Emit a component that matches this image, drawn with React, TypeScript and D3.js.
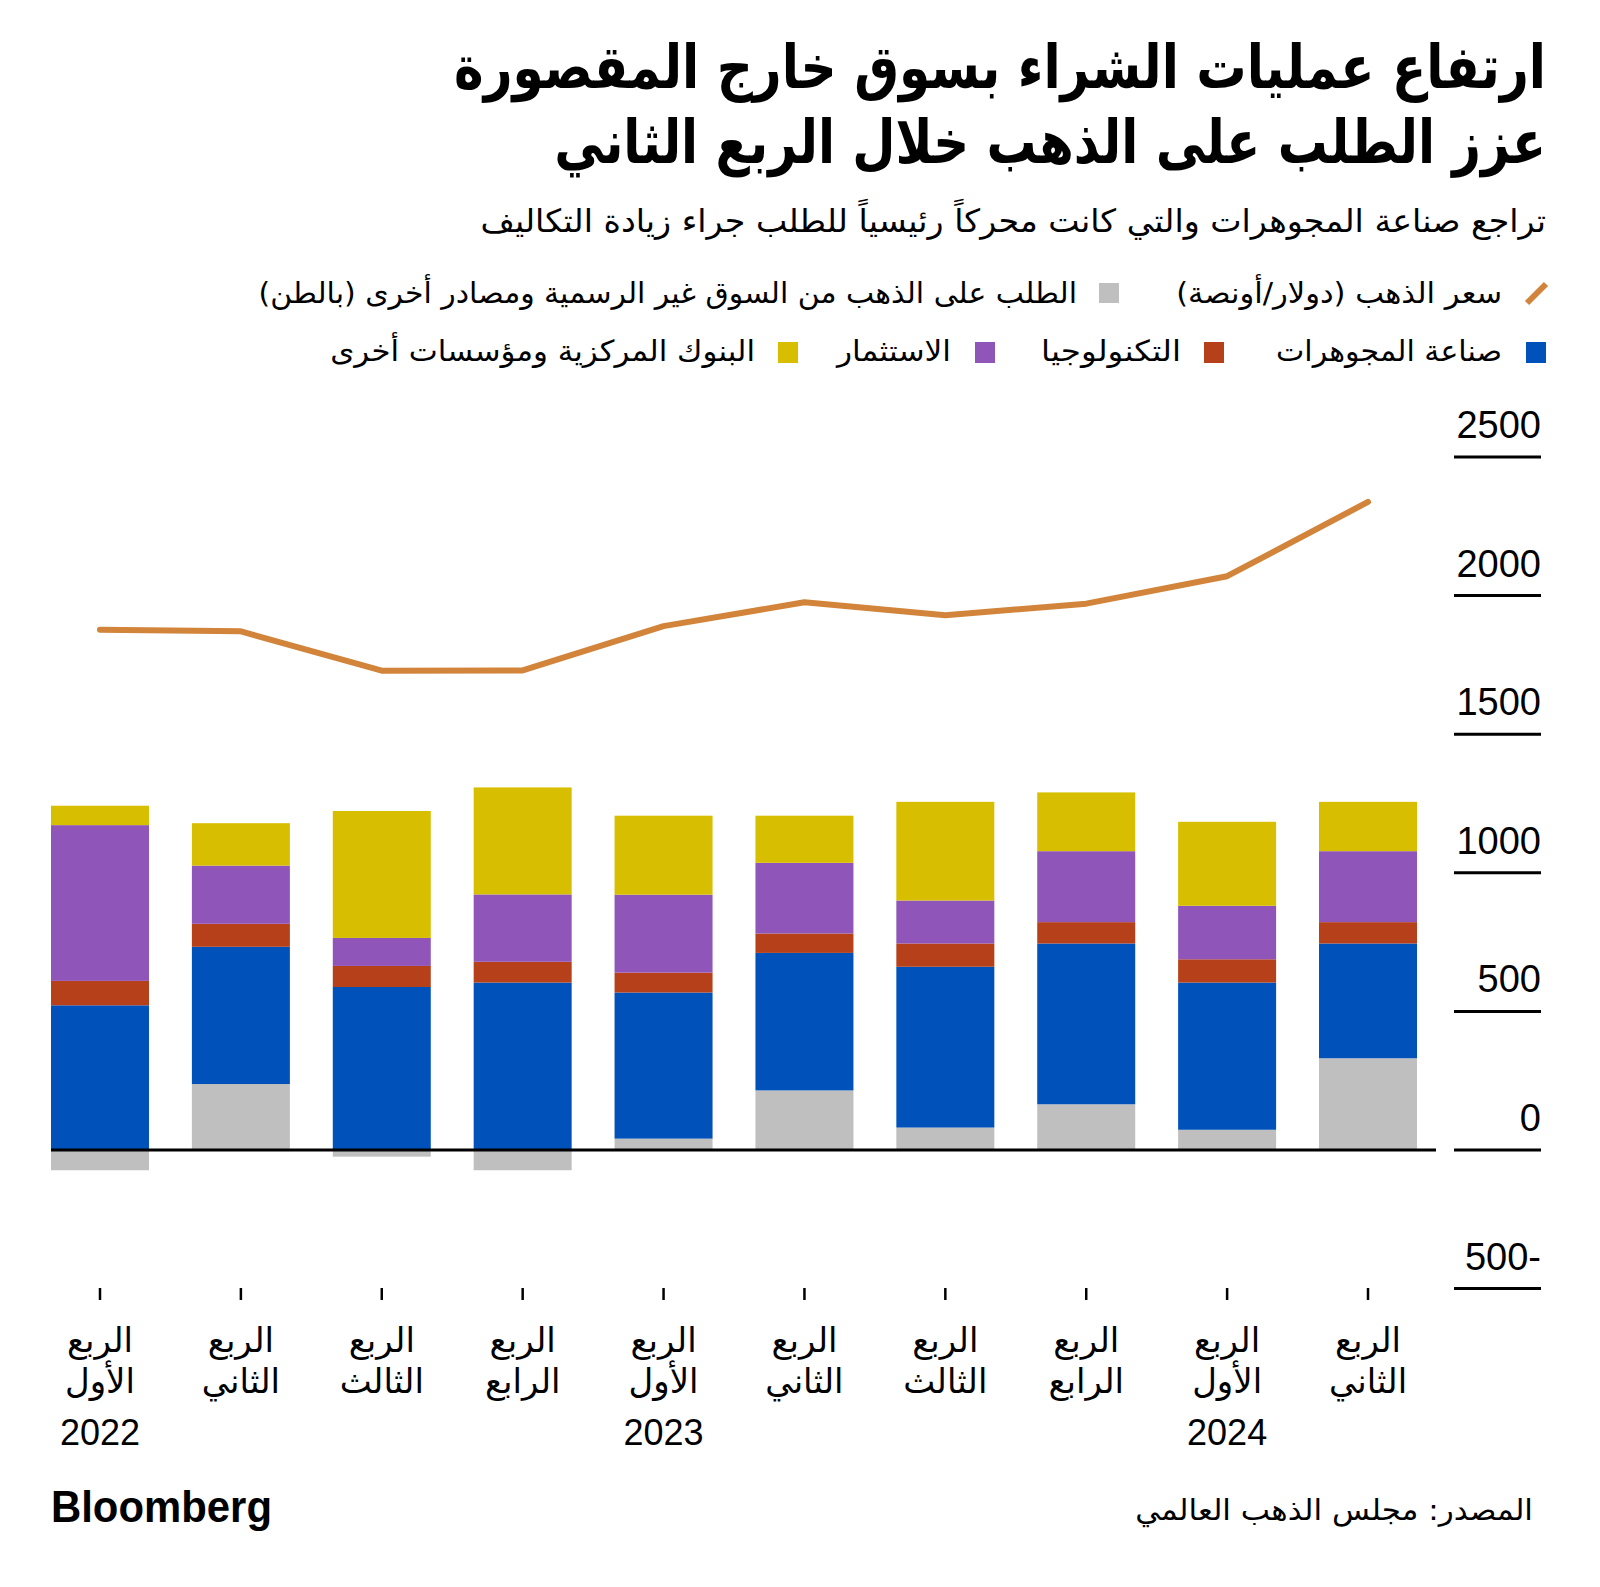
import React from "react";
import * as d3 from "d3";

const quarterKeys = ["Q1-2022","Q2-2022","Q3-2022","Q4-2022","Q1-2023","Q2-2023","Q3-2023","Q4-2023","Q1-2024","Q2-2024"];
const quarterWord = "الربع";
const quarterOrdinals = ["الأول","الثاني","الثالث","الرابع","الأول","الثاني","الثالث","الرابع","الأول","الثاني"];
const quarterYears = ["2022","","","","2023","","","","2024",""];

const otcDemand = [-73, 238, -24, -73, 41, 215, 81, 165, 73, 331];
const jewellery = [522, 495, 588, 604, 527, 496, 580, 580, 531, 414];
const technology = [88, 83, 76, 75, 72, 70, 84, 77, 84, 77];
const investment = [562, 210, 101, 243, 281, 255, 155, 256, 193, 256];
const centralBanks = [70, 153, 458, 386, 285, 170, 356, 212, 303, 178];
const goldPrice = [1877, 1871, 1729, 1730, 1890, 1976, 1929, 1971, 2070, 2338];

const yTicks = [-500, 0, 500, 1000, 1500, 2000, 2500];

const seriesKeys = ["otc", "jewellery", "technology", "investment", "centralBanks"];
const seriesColors = ["#bfbfbf", "#0052ba", "#b5401a", "#9055b9", "#d7bf00"];
const priceColor = "#d2843a";

const titleLines = ["ارتفاع عمليات الشراء بسوق خارج المقصورة", "عزز الطلب على الذهب خلال الربع الثاني"];
const subtitle = "تراجع صناعة المجوهرات والتي كانت محركاً رئيسياً للطلب جراء زيادة التكاليف";
const legendPrice = "سعر الذهب (دولار/أونصة)";
const legendOtc = "الطلب على الذهب من السوق غير الرسمية ومصادر أخرى (بالطن)";
const legendJewellery = "صناعة المجوهرات";
const legendTech = "التكنولوجيا";
const legendInvest = "الاستثمار";
const legendCB = "البنوك المركزية ومؤسسات أخرى";
const sourceText = "المصدر: مجلس الذهب العالمي";

const AR = "'DejaVu Sans', sans-serif";
const NUM = "'Liberation Sans', Arial, sans-serif";

function FitText({ x, y, width, text, fontSize, fontWeight, rtl = true, family = AR }: any) {
  const ref = React.useRef<SVGTextElement>(null);
  const [scale, setScale] = React.useState(1);
  React.useLayoutEffect(() => {
    if (ref.current) {
      const w = ref.current.getComputedTextLength();
      if (w > 0) setScale(width / w);
    }
  }, [text, width]);
  return (
    <text
      ref={ref}
      transform={`translate(${x},${y}) scale(${scale},1)`}
      direction={rtl ? "rtl" : "ltr"}
      textAnchor="start"
      fontFamily={family}
      fontSize={fontSize}
      fontWeight={fontWeight}
      fill="#000"
    >
      {text}
    </text>
  );
}

export default function App() {
  const W = 1600, H = 1587;
  const x = d3.scaleBand<string>().domain(quarterKeys).range([51, 1417]).paddingInner(0.3045).paddingOuter(0);
  const y = d3.scaleLinear().domain([0, 2500]).range([1150, 457]);

  const table = quarterKeys.map((k, i) => ({
    key: k,
    otc: otcDemand[i],
    jewellery: jewellery[i],
    technology: technology[i],
    investment: investment[i],
    centralBanks: centralBanks[i],
  }));
  const stacked = d3.stack<any>().keys(seriesKeys).offset(d3.stackOffsetDiverging)(table);

  const line = d3.line<number>()
    .x((_, i) => (x(quarterKeys[i]) as number) + x.bandwidth() / 2)
    .y((d) => y(d));

  return (
    <svg width={W} height={H} style={{ position: "absolute", left: 0, top: 0, background: "#fff" }}>
      <rect width={W} height={H} fill="#fff" />
      {/* Title */}
      <FitText x={1546} y={88} width={1092} fontSize={60} fontWeight={700} text={titleLines[0]} />
      <FitText x={1546} y={163} width={992} fontSize={60} fontWeight={700} text={titleLines[1]} />
      <FitText x={1546} y={232} width={1066} fontSize={32} text={subtitle} />

      {/* Legend row 1 */}
      <line x1={1527} y1={303} x2={1546} y2={284} stroke={priceColor} strokeWidth={6} />
      <FitText x={1502} y={303} width={326} fontSize={29} text={legendPrice} />
      <rect x={1099} y={283} width={20} height={20} fill={seriesColors[0]} />
      <FitText x={1077} y={303} width={819} fontSize={29} text={legendOtc} />

      {/* Legend row 2 */}
      <rect x={1526} y={342} width={20} height={21} fill={seriesColors[1]} />
      <FitText x={1502} y={361} width={226} fontSize={29} text={legendJewellery} />
      <rect x={1204} y={342} width={20} height={21} fill={seriesColors[2]} />
      <FitText x={1181} y={361} width={140} fontSize={29} text={legendTech} />
      <rect x={975} y={342} width={20} height={21} fill={seriesColors[3]} />
      <FitText x={951} y={361} width={114} fontSize={29} text={legendInvest} />
      <rect x={778} y={342} width={20} height={21} fill={seriesColors[4]} />
      <FitText x={755} y={361} width={425} fontSize={29} text={legendCB} />

      {/* Y axis */}
      {yTicks.map((t) => (
        <g key={t}>
          <line x1={1454} x2={1541} y1={y(t)} y2={y(t)} stroke="#000" strokeWidth={3} />
          <text x={1541} y={y(t) - 19} textAnchor="end" fontFamily={NUM} fontSize={38} fill="#000">
            {t < 0 ? `${Math.abs(t)}-` : `${t}`}
          </text>
        </g>
      ))}

      {/* Bars */}
      {stacked.map((s, si) => (
        <g key={seriesKeys[si]} fill={seriesColors[si]}>
          {s.map((d, i) => {
            const y0 = y(d[0]), y1 = y(d[1]);
            return (
              <rect key={i} x={x(quarterKeys[i])} width={x.bandwidth()} y={Math.min(y0, y1)} height={Math.abs(y0 - y1)} />
            );
          })}
        </g>
      ))}

      {/* Zero line */}
      <line x1={51} x2={1436} y1={y(0)} y2={y(0)} stroke="#000" strokeWidth={3} />

      {/* Price line */}
      <path d={line(goldPrice) as string} fill="none" stroke={priceColor} strokeWidth={6} strokeLinecap="round" strokeLinejoin="round" />

      {/* X axis */}
      {quarterKeys.map((k, i) => {
        const cx = (x(k) as number) + x.bandwidth() / 2;
        return (
          <g key={k}>
            <line x1={cx} x2={cx} y1={1288} y2={1300} stroke="#000" strokeWidth={2.5} />
            <text x={cx} y={1352} textAnchor="middle" fontFamily={AR} fontSize={34} fill="#000">{quarterWord}</text>
            <text x={cx} y={1393} textAnchor="middle" fontFamily={AR} fontSize={34} fill="#000">{quarterOrdinals[i]}</text>
            {quarterYears[i] && (
              <text x={cx} y={1445} textAnchor="middle" fontFamily={NUM} fontSize={36} fill="#000">{quarterYears[i]}</text>
            )}
          </g>
        );
      })}

      {/* Footer */}
      <text x={51} y={1522} fontFamily={NUM} fontWeight={700} fontSize={44} textLength={221} lengthAdjust="spacingAndGlyphs" fill="#000">Bloomberg</text>
      <FitText x={1533} y={1520} width={398} fontSize={29} text={sourceText} />
    </svg>
  );
}
